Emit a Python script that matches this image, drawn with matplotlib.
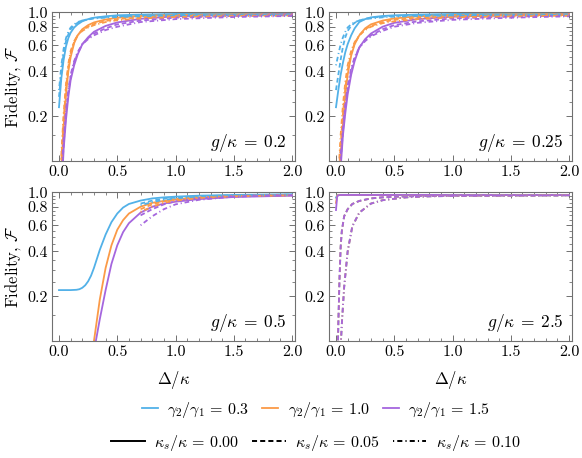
import matplotlib
matplotlib.use("Agg")
import matplotlib.pyplot as plt
from matplotlib.lines import Line2D
import numpy as np

plt.rcParams['font.family'] = 'serif'
plt.rcParams['font.serif'] = ['cmr10']
plt.rcParams['mathtext.fontset'] = 'cm'
plt.rcParams['axes.formatter.use_mathtext'] = True

nan = np.nan

# ---- g/kappa = 0.2 (top left) ----
x_g02 = [0.0, 0.02, 0.04, 0.06, 0.08, 0.10, 0.13, 0.16, 0.2, 0.25, 0.3, 0.4, 0.5, 0.7, 1.0, 1.5, 2.0]
g02_blue_k0 = [0.23, 0.36, 0.48, 0.59, 0.67, 0.73, 0.79, 0.83, 0.87, 0.90, 0.92, 0.94, 0.955, 0.965, 0.975, 0.98, 0.985]
g02_blue_k1 = [0.27, 0.40, 0.53, 0.64, 0.71, 0.77, 0.82, 0.85, 0.88, 0.90, 0.915, 0.93, 0.94, 0.95, 0.96, 0.965, 0.97]
g02_blue_k2 = [0.30, 0.44, 0.57, 0.67, 0.74, 0.79, 0.83, 0.86, 0.88, 0.895, 0.91, 0.92, 0.93, 0.94, 0.95, 0.955, 0.96]
g02_orange_k0 = [0.03, 0.09, 0.17, 0.28, 0.40, 0.50, 0.62, 0.70, 0.77, 0.82, 0.855, 0.895, 0.92, 0.945, 0.96, 0.97, 0.975]
g02_orange_k1 = [0.04, 0.10, 0.19, 0.31, 0.43, 0.53, 0.63, 0.70, 0.76, 0.80, 0.835, 0.875, 0.90, 0.925, 0.945, 0.955, 0.96]
g02_orange_k2 = [0.05, 0.11, 0.21, 0.33, 0.45, 0.55, 0.64, 0.70, 0.75, 0.79, 0.82, 0.86, 0.885, 0.91, 0.93, 0.945, 0.95]
g02_purple_k0 = [0.02, 0.06, 0.12, 0.19, 0.27, 0.35, 0.44, 0.52, 0.61, 0.68, 0.74, 0.81, 0.855, 0.905, 0.94, 0.96, 0.97]
g02_purple_k1 = [0.03, 0.07, 0.13, 0.21, 0.29, 0.37, 0.46, 0.53, 0.61, 0.67, 0.72, 0.78, 0.83, 0.88, 0.92, 0.945, 0.955]
g02_purple_k2 = [0.03, 0.08, 0.14, 0.22, 0.30, 0.38, 0.47, 0.54, 0.61, 0.66, 0.70, 0.76, 0.80, 0.86, 0.90, 0.93, 0.945]

# ---- g/kappa = 0.25 (top right) ----
x_g025 = x_g02
g025_blue_k0 = [0.23, 0.30, 0.38, 0.46, 0.54, 0.61, 0.70, 0.78, 0.86, 0.90, 0.925, 0.945, 0.955, 0.965, 0.975, 0.98, 0.985]
g025_blue_k1 = [0.30, 0.38, 0.48, 0.59, 0.68, 0.75, 0.81, 0.85, 0.88, 0.905, 0.92, 0.935, 0.945, 0.955, 0.96, 0.965, 0.97]
g025_blue_k2 = [0.44, 0.52, 0.61, 0.68, 0.74, 0.79, 0.83, 0.86, 0.88, 0.90, 0.91, 0.925, 0.935, 0.945, 0.95, 0.955, 0.96]
g025_orange_k0 = [0.03, 0.06, 0.11, 0.18, 0.28, 0.38, 0.51, 0.61, 0.70, 0.78, 0.83, 0.88, 0.91, 0.94, 0.96, 0.97, 0.975]
g025_orange_k1 = [0.035, 0.07, 0.13, 0.21, 0.31, 0.41, 0.53, 0.62, 0.70, 0.77, 0.81, 0.86, 0.89, 0.92, 0.94, 0.955, 0.96]
g025_orange_k2 = [0.04, 0.08, 0.15, 0.24, 0.34, 0.44, 0.55, 0.63, 0.70, 0.76, 0.80, 0.845, 0.87, 0.90, 0.925, 0.94, 0.95]
g025_purple_k0 = [0.02, 0.045, 0.09, 0.15, 0.21, 0.28, 0.38, 0.47, 0.58, 0.66, 0.72, 0.80, 0.85, 0.90, 0.935, 0.955, 0.965]
g025_purple_k1 = [0.025, 0.05, 0.10, 0.16, 0.23, 0.30, 0.40, 0.49, 0.58, 0.65, 0.70, 0.77, 0.82, 0.87, 0.91, 0.935, 0.95]
g025_purple_k2 = [0.03, 0.06, 0.11, 0.17, 0.24, 0.32, 0.42, 0.50, 0.58, 0.64, 0.69, 0.75, 0.80, 0.85, 0.89, 0.92, 0.94]

# ---- g/kappa = 0.5 (bottom left) ----
x_g05 = [0.0, 0.1, 0.15, 0.175, 0.2, 0.225, 0.25, 0.275, 0.3, 0.35, 0.4, 0.45, 0.5, 0.55, 0.6, 0.7, 0.8, 0.9, 1.0, 1.2, 1.5, 2.0]
g05_blue_k0 = [0.22, 0.22, 0.221, 0.223, 0.228, 0.237, 0.252, 0.275, 0.31, 0.41, 0.52, 0.63, 0.72, 0.79, 0.835, 0.88, 0.91, 0.925, 0.935, 0.95, 0.96, 0.97]
g05_blue_k1 = [nan, nan, nan, nan, nan, nan, nan, nan, nan, nan, nan, nan, nan, nan, nan, 0.84, 0.88, 0.905, 0.92, 0.94, 0.955, 0.965]
g05_blue_k2 = [nan, nan, nan, nan, nan, nan, nan, nan, nan, nan, nan, nan, nan, nan, nan, 0.82, 0.86, 0.89, 0.91, 0.935, 0.95, 0.96]
g05_orange_k0 = [nan, nan, nan, nan, nan, nan, 0.05, 0.07, 0.10, 0.19, 0.31, 0.44, 0.56, 0.65, 0.72, 0.80, 0.85, 0.875, 0.895, 0.92, 0.94, 0.955]
g05_orange_k1 = [nan, nan, nan, nan, nan, nan, nan, nan, nan, nan, nan, nan, nan, nan, nan, 0.77, 0.83, 0.87, 0.90, 0.925, 0.945, 0.96]
g05_orange_k2 = [nan, nan, nan, nan, nan, nan, nan, nan, nan, nan, nan, nan, nan, nan, nan, 0.74, 0.80, 0.85, 0.88, 0.915, 0.94, 0.955]
g05_purple_k0 = [nan, nan, nan, nan, nan, nan, 0.04, 0.06, 0.085, 0.14, 0.22, 0.33, 0.44, 0.54, 0.62, 0.73, 0.80, 0.84, 0.865, 0.90, 0.93, 0.95]
g05_purple_k1 = [nan, nan, nan, nan, nan, nan, nan, nan, nan, nan, nan, nan, nan, nan, nan, 0.70, 0.77, 0.83, 0.87, 0.915, 0.945, 0.96]
g05_purple_k2 = [nan, nan, nan, nan, nan, nan, nan, nan, nan, nan, nan, nan, nan, nan, nan, 0.60, 0.69, 0.77, 0.83, 0.89, 0.935, 0.955]

# ---- g/kappa = 2.5 (bottom right) ----
x_g25 = [0.0, 0.01, 0.02, 0.03, 0.04, 0.05, 0.07, 0.1, 0.14, 0.2, 0.3, 0.4, 0.6, 0.8, 1.0, 1.5, 2.0]
g25_blue_k0 = [0.92, 0.955, 0.96, 0.96, 0.96, 0.96, 0.96, 0.96, 0.96, 0.96, 0.96, 0.96, 0.96, 0.96, 0.96, 0.96, 0.96]
g25_orange_k0 = [0.85, 0.95, 0.958, 0.96, 0.96, 0.96, 0.96, 0.96, 0.96, 0.96, 0.96, 0.96, 0.96, 0.96, 0.96, 0.96, 0.96]
g25_purple_k0 = [0.76, 0.935, 0.955, 0.958, 0.96, 0.96, 0.96, 0.96, 0.96, 0.96, 0.96, 0.96, 0.96, 0.96, 0.96, 0.96, 0.96]
g25_blue_k1 = [nan, 0.05, 0.13, 0.26, 0.43, 0.55, 0.69, 0.77, 0.835, 0.875, 0.91, 0.925, 0.94, 0.945, 0.95, 0.953, 0.955]
g25_orange_k1 = [nan, 0.05, 0.13, 0.26, 0.43, 0.55, 0.69, 0.77, 0.835, 0.875, 0.91, 0.925, 0.94, 0.945, 0.95, 0.953, 0.955]
g25_purple_k1 = [nan, 0.05, 0.13, 0.26, 0.43, 0.55, 0.69, 0.77, 0.835, 0.875, 0.91, 0.925, 0.94, 0.945, 0.95, 0.953, 0.955]
g25_blue_k2 = [nan, nan, nan, 0.05, 0.09, 0.13, 0.23, 0.40, 0.59, 0.73, 0.84, 0.885, 0.925, 0.94, 0.945, 0.95, 0.955]
g25_orange_k2 = [nan, nan, nan, 0.05, 0.09, 0.13, 0.23, 0.40, 0.59, 0.73, 0.84, 0.885, 0.925, 0.94, 0.945, 0.95, 0.955]
g25_purple_k2 = [nan, nan, nan, 0.05, 0.09, 0.13, 0.23, 0.40, 0.59, 0.73, 0.84, 0.885, 0.925, 0.94, 0.945, 0.95, 0.955]

gamma_labels = ['0.3', '1.0', '1.5']
kappa_labels = ['0.00', '0.05', '0.10']
g_labels = ['0.2', '0.25', '0.5', '2.5']

colors = ['#52b1e8', '#fb9a47', '#a566de']
styles = ['-', (0, (2.6, 1.6)), (0, (0.6, 1.6, 2.6, 1.6))]

panels = [
    (x_g02, [[g02_blue_k0, g02_blue_k1, g02_blue_k2],
             [g02_orange_k0, g02_orange_k1, g02_orange_k2],
             [g02_purple_k0, g02_purple_k1, g02_purple_k2]]),
    (x_g025, [[g025_blue_k0, g025_blue_k1, g025_blue_k2],
              [g025_orange_k0, g025_orange_k1, g025_orange_k2],
              [g025_purple_k0, g025_purple_k1, g025_purple_k2]]),
    (x_g05, [[g05_blue_k0, g05_blue_k1, g05_blue_k2],
             [g05_orange_k0, g05_orange_k1, g05_orange_k2],
             [g05_purple_k0, g05_purple_k1, g05_purple_k2]]),
    (x_g25, [[g25_blue_k0, g25_blue_k1, g25_blue_k2],
             [g25_orange_k0, g25_orange_k1, g25_orange_k2],
             [g25_purple_k0, g25_purple_k1, g25_purple_k2]]),
]

fig = plt.figure(figsize=(5.82, 4.58), dpi=100)
w, h = 243 / 582, 149 / 458
positions = [(52 / 582, 1 - 161 / 458), (329 / 582, 1 - 161 / 458),
             (52 / 582, 1 - 341 / 458), (329 / 582, 1 - 341 / 458)]
frame_color = '#707070'

for i, (xs, series) in enumerate(panels):
    ax = fig.add_axes([positions[i][0], positions[i][1], w, h])
    for k in range(3):
        for c in range(3):
            ax.plot(xs, series[c][k], color=colors[c], linestyle=styles[k], lw=1.3)
    ax.set_yscale('log')
    ax.set_ylim(0.1, 1.005)
    ax.set_xlim(-0.06, 2.025)
    ax.set_yticks([0.2, 0.4, 0.6, 0.8, 1.0])
    ax.set_yticklabels(['0.2', '0.4', '0.6', '0.8', '1.0'])
    ax.set_yticks([v for v in np.arange(0.1, 1.0, 0.05) if round(v, 2) not in (0.2, 0.4, 0.6, 0.8)], minor=True)
    ax.yaxis.set_minor_formatter(plt.NullFormatter())
    ax.set_xticks([0.0, 0.5, 1.0, 1.5, 2.0])
    ax.set_xticklabels(['0.0', '0.5', '1.0', '1.5', '2.0'])
    ax.set_xticks(np.arange(0.1, 2.0, 0.1), minor=True)
    ax.tick_params(which='both', direction='in', top=True, right=True,
                   color=frame_color, labelsize=11.5, pad=3)
    ax.tick_params(which='major', length=4, width=0.7)
    ax.tick_params(which='minor', length=2, width=0.6)
    for s in ax.spines.values():
        s.set_color(frame_color)
        s.set_linewidth(0.8)
    ax.text(0.965, 0.12, r'$g/\kappa\:=\:' + g_labels[i] + '$', transform=ax.transAxes,
            ha='right', va='center', fontsize=12.5)
    if i % 2 == 0:
        ax.set_ylabel(r'Fidelity, $\mathcal{F}$', fontsize=12, labelpad=3)
    if i >= 2:
        ax.set_xlabel(r'$\Delta/\kappa$', fontsize=12, labelpad=7)

color_handles = [Line2D([], [], color=colors[c], lw=1.3) for c in range(3)]
fig.legend(color_handles, [r'$\gamma_2/\gamma_1\,=\,' + g + '$' for g in gamma_labels],
           loc='center', bbox_to_anchor=(316 / 582, 1 - 410 / 458), ncol=3, frameon=False,
           fontsize=11.5, handlelength=1.0, handletextpad=0.6, columnspacing=0.8)
style_handles = [Line2D([], [], color='black', linestyle=styles[k], lw=1.4) for k in range(3)]
fig.legend(style_handles, [r'$\kappa_s/\kappa\,=\,' + k + '$' for k in kappa_labels],
           loc='center', bbox_to_anchor=(316 / 582, 1 - 443 / 458), ncol=3, frameon=False,
           fontsize=11.5, handlelength=2.1, handletextpad=0.6, columnspacing=0.8)

fig.savefig('out.png', dpi=100)
